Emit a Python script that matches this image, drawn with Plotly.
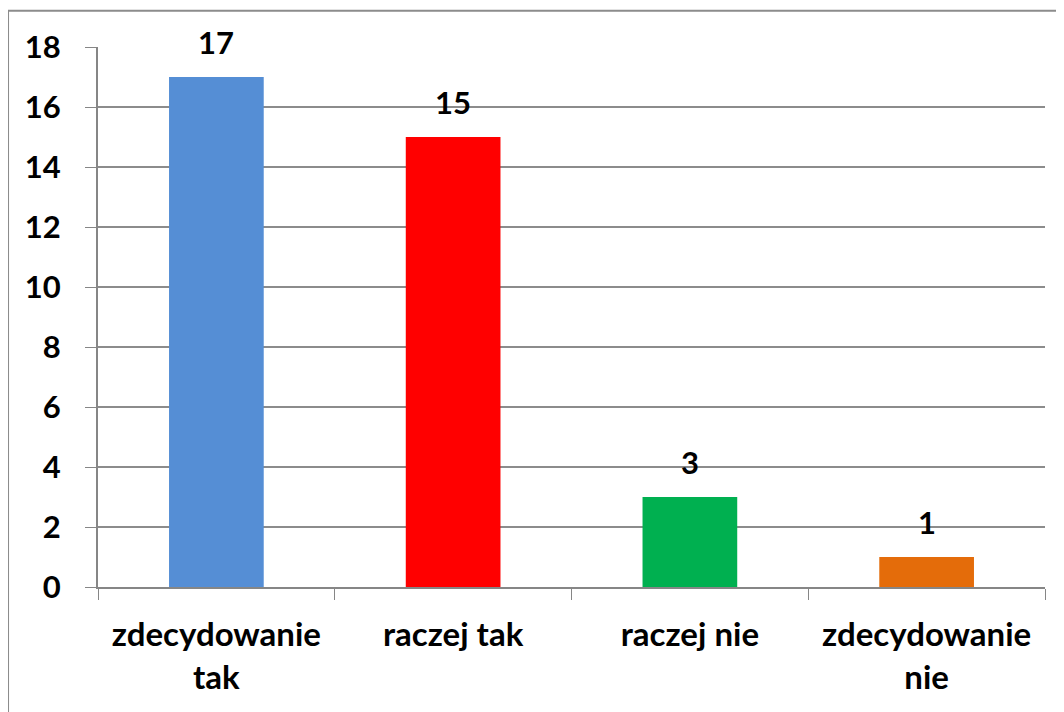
import plotly.graph_objects as go

categories = ["zdecydowanie<br>tak", "raczej tak", "raczej nie", "zdecydowanie<br>nie"]
values = [17, 15, 3, 1]
colors = ["#558ED5", "#FF0000", "#00B050", "#E46C0A"]

font_family = "Lato, 'Open Sans', sans-serif"

fig = go.Figure(
    data=[go.Bar(
        x=categories, y=values,
        marker=dict(color=colors, line=dict(width=0)),
        width=0.4,
    )]
)

# value labels above the bars
for cat, val in zip(categories, values):
    fig.add_annotation(
        x=cat, y=val, text=str(val), showarrow=False,
        yanchor="bottom", yshift=14,
        font=dict(size=31, color="black", family=font_family, weight="bold"),
    )

# page body has an 8px margin, so margins are shifted by 8px
fig.update_layout(
    width=1064, height=712,
    margin=dict(l=90, r=27, t=39, b=133, autoexpand=False),
    paper_bgcolor="white", plot_bgcolor="white",
    showlegend=False,
    font=dict(family=font_family, size=31, color="black", weight="bold"),
    shapes=[dict(type="rect", xref="paper", yref="paper",
                 x0=-0.095, x1=1.05, y0=-0.25, y1=1.067,
                 line=dict(color="#8c8c8c", width=2), layer="below")],
)
fig.update_xaxes(
    tickson="boundaries", ticks="outside", ticklen=11, tickcolor="#868686",
    showline=True, linecolor="#868686", linewidth=2,
    showgrid=False, tickangle=0, automargin=False,
    tickfont=dict(size=33), ticklabelstandoff=17,
)
fig.update_yaxes(
    range=[0, 18], dtick=2, ticks="outside", ticklen=11, tickcolor="#868686",
    showline=True, linecolor="#868686", linewidth=2,
    showgrid=True, gridcolor="#8c8c8c", gridwidth=2, zeroline=False,
    automargin=False, ticklabelstandoff=18,
)

fig.write_html("out.html")
